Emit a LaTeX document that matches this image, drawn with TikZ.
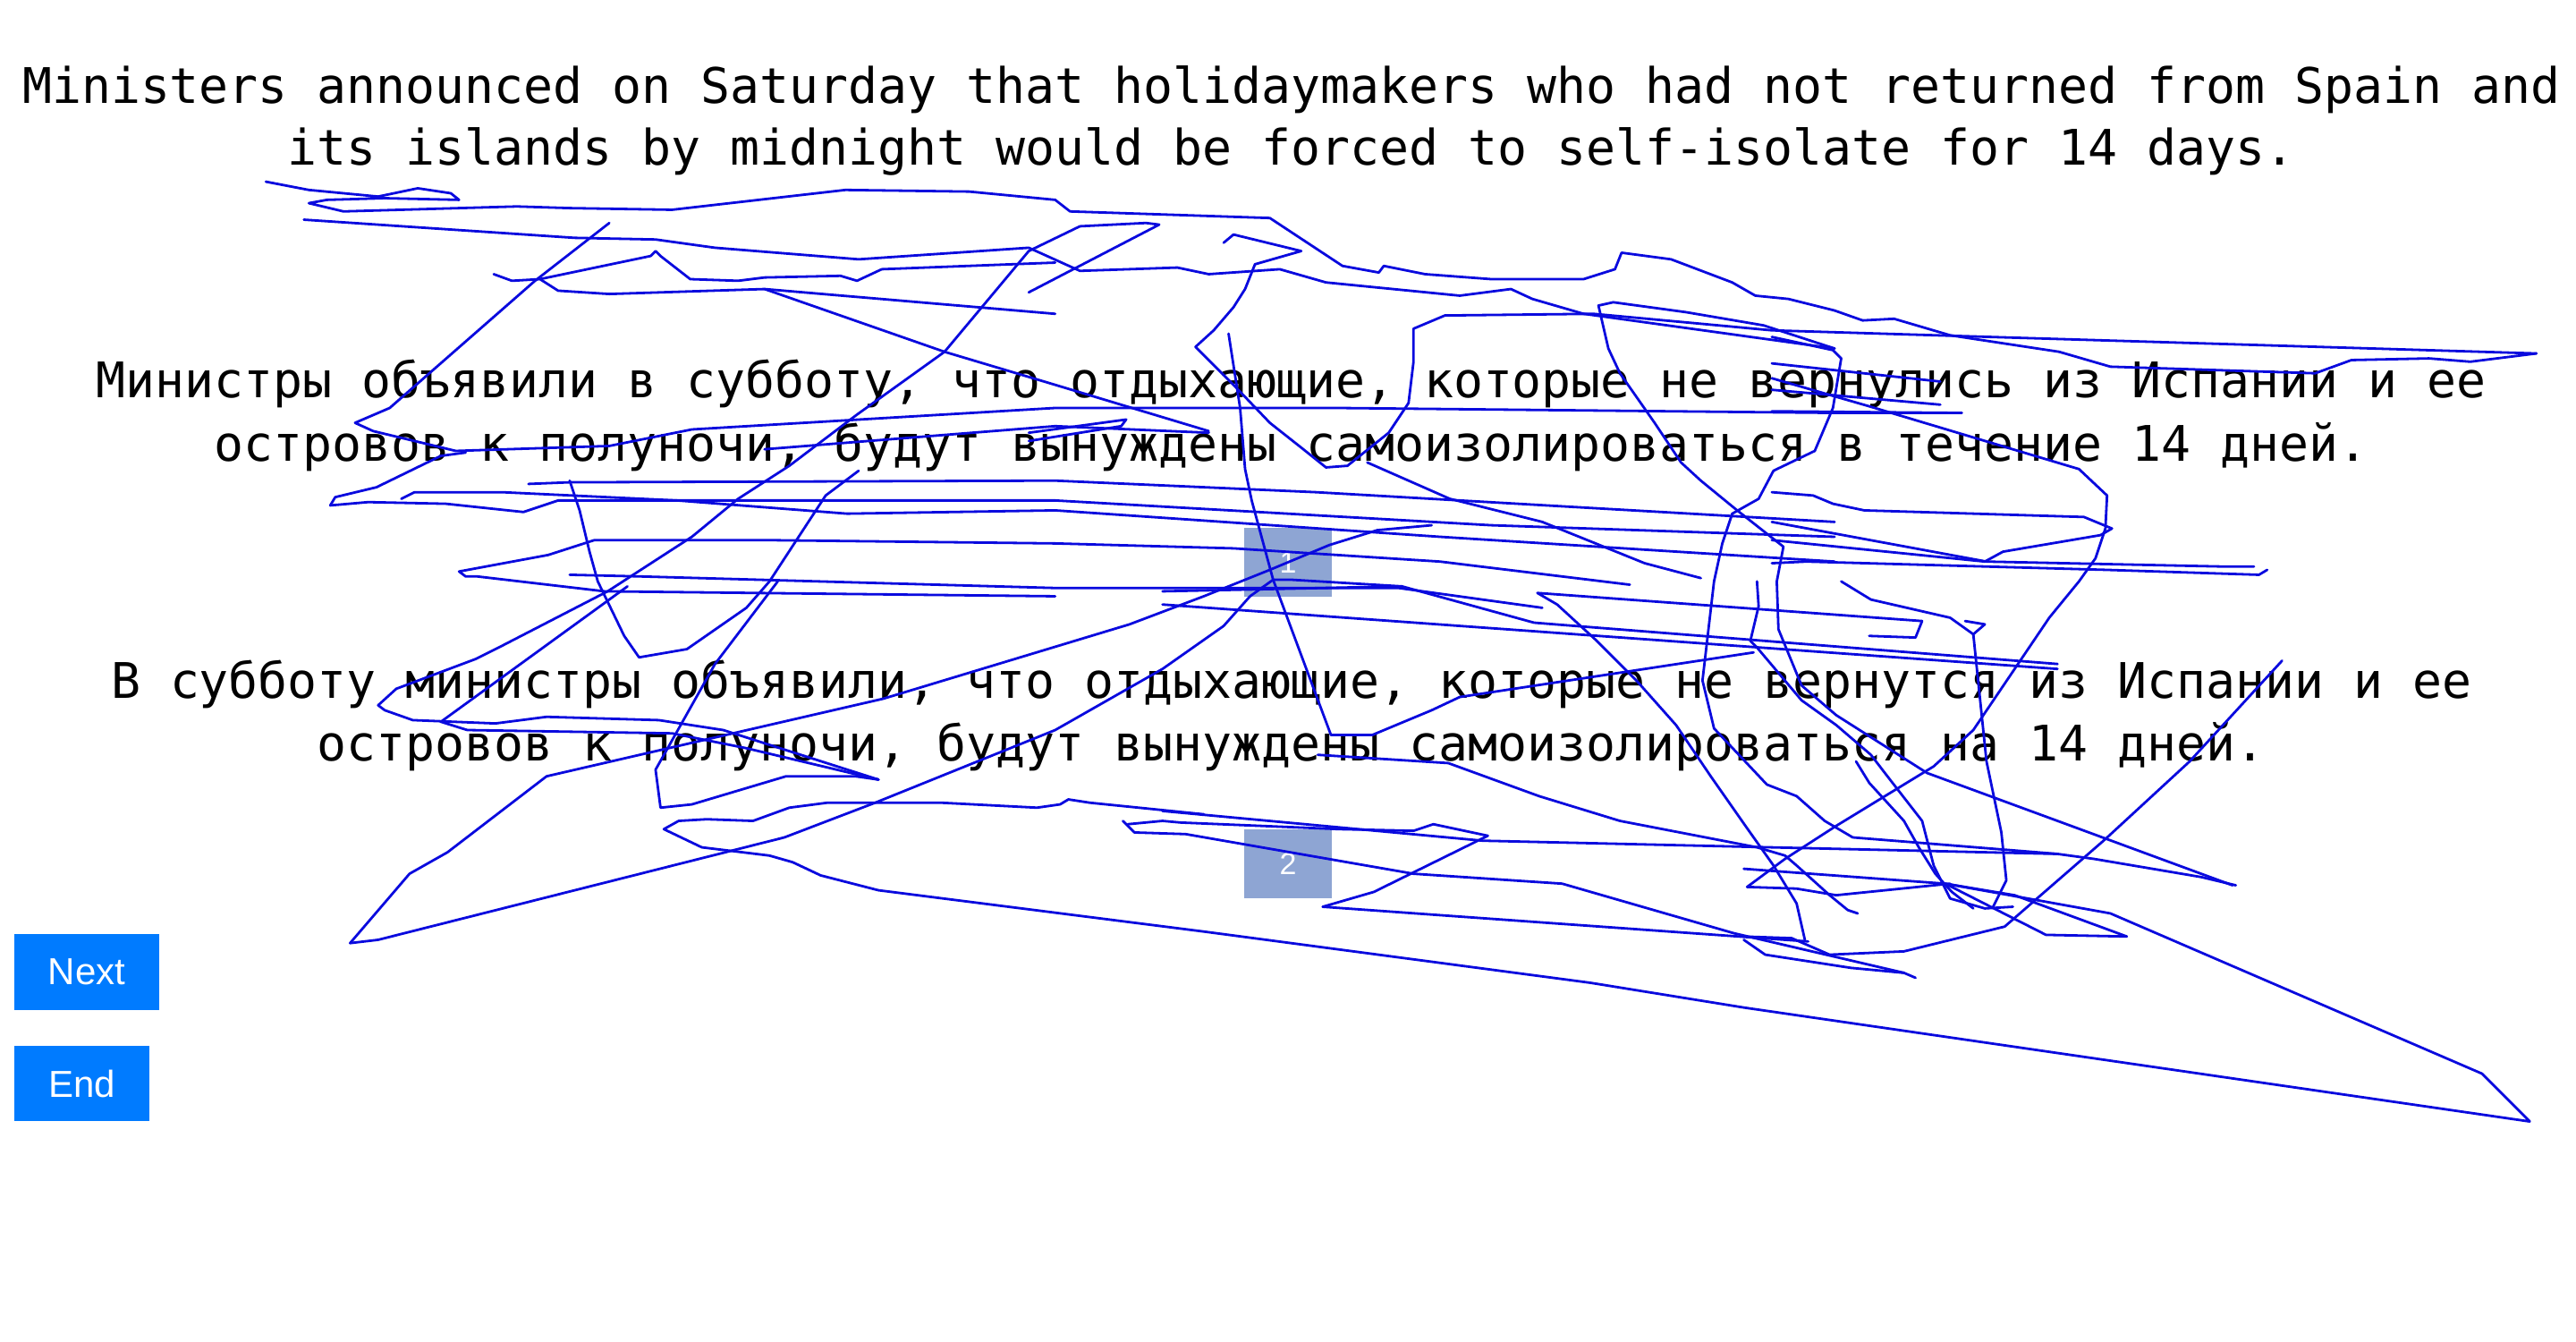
\documentclass[tikz,border=0pt]{standalone}
\usepackage{fontspec}
\setmainfont{Liberation Sans}
\newfontfamily\monofont{DejaVu Sans Mono}
\definecolor{traceblue}{RGB}{10,10,222}
\definecolor{btnblue}{RGB}{0,123,255}
\definecolor{pagebox}{RGB}{142,165,211}
\tikzset{
  caption/.style={font=\monofont\fontsize{27.4}{35}\selectfont, anchor=base, inner sep=0pt},
  button/.style={fill=btnblue, text=white, font=\fontsize{21}{24}\selectfont, minimum height=42.4pt, inner sep=0pt},
  pagenum/.style={fill=pagebox, text=white, font=\fontsize{17}{19}\selectfont, minimum width=49pt, minimum height=38.5pt, inner sep=0pt},
  trace/.style={traceblue, line width=1.4pt, line join=round, line cap=round}
}

\begin{document}
\begin{tikzpicture}[x=0.9231pt, y=-0.9231pt]
    \useasboundingbox (0,0) rectangle (1560,812.5);

    % sentences
    \node[caption] (en1) at (782,62.3) {Ministers announced on Saturday that holidaymakers who had not returned from Spain and};
    \node[caption] (en2) at (782,100.2) {its islands by midnight would be forced to self-isolate for 14 days.};
    \node[caption] (ru1) at (782,241) {Министры объявили в субботу, что отдыхающие, которые не вернулись из Испании и ее};
    \node[caption] (ru2) at (782,279) {островов к полуночи, будут вынуждены самоизолироваться в течение 14 дней.};
    \node[caption] (rv1) at (782,422.5) {В субботу министры объявили, что отдыхающие, которые не вернутся из Испании и ее};
    \node[caption] (rv2) at (782,460.5) {островов к полуночи, будут вынуждены самоизолироваться на 14 дней.};

    % page boxes and buttons
    \node[pagenum] (box1) at (780,340.5) {1};
    \node[pagenum] (box2) at (780,522.8) {2};
    \node[button, minimum width=81pt] (next) at (52.5,588.5) {Next};
    \node[button, minimum width=75.5pt] (end) at (49.6,656) {End};

    % mouse trace
    \draw[trace] plot coordinates {(161,110) (187,115) (229,119) (253,114) (273,117) (278,121) (233,120) (198,121) (187,123) (208,128) (313,125) (345,126) (407,127) (512,115) (587,116) (639,121) (648,128) (769,132) (813,161) (835,165) (838,161) (863,166) (903,169) (959,169) (978,163) (982,153) (1012,157) (1049,171) (1063,179) (1083,181) (1111,188) (1128,194) (1147,193) (1181,203) (1247,213) (1278,222) (1402,226) (1424,218) (1471,217) (1496,219) (1536,214)};
    \draw[trace] plot coordinates {(184,133) (348,144) (397,145) (433,150) (520,157) (623,150) (654,164) (713,162) (732,166) (775,163) (803,171) (884,179) (915,175) (928,181) (959,190) (1111,211)};
    \draw[trace] plot coordinates {(369,135) (324,170) (236,247) (215,256) (226,261) (276,273) (369,270) (419,260) (639,247) (810,247) (1111,250) (1188,250)};
    \draw[trace] plot coordinates {(299,166) (310,170) (327,169) (338,176) (369,178) (463,175) (639,190)};
    \draw[trace] plot coordinates {(327,169) (394,155) (397,152) (400,155) (418,169) (447,170) (463,168) (509,167) (519,170) (534,163) (639,159)};
    \draw[trace] plot coordinates {(463,175) (572,213) (639,233) (732,261)};
    \draw[trace] plot coordinates {(623,177) (702,136) (694,135) (654,137) (623,152) (572,213) (519,251) (478,282) (447,302) (419,325) (368,358) (304,391) (288,399) (240,417) (229,427) (233,430) (250,436) (300,438) (331,434) (399,436) (438,442) (463,450) (532,472)};
    \draw[trace] plot coordinates {(212,571) (248,529) (271,516) (331,470) (535,423) (684,378) (729,361) (769,345) (805,330) (834,321) (867,318)};
    \draw[trace] plot coordinates {(212,571) (229,569) (475,507) (530,486) (639,442) (704,405) (741,379) (757,361) (771,351) (782,351) (849,355)};
    \draw[trace] plot coordinates {(345,291) (351,309) (357,334) (362,352) (378,385) (387,398) (416,393) (452,368) (466,352) (500,300) (520,285)};
    \draw[trace] plot coordinates {(380,355) (267,437) (283,442) (407,444) (452,453) (532,472)};
    \draw[trace] plot coordinates {(471,352) (433,402) (397,466) (400,489) (419,487) (476,470) (518,470) (532,472)};
    \draw[trace] plot coordinates {(729,493) (660,486) (647,484) (642,487) (628,489) (570,486) (501,486) (478,489) (456,497) (428,496) (411,497) (402,502) (425,513) (466,518) (480,522) (497,530) (532,539) (729,564) (963,595) (1056,610) (1532,679) (1503,650) (1278,553) (1217,542) (1178,535)};
    \draw[trace] plot coordinates {(680,497) (687,504) (718,505) (856,529) (946,535) (1050,565) (1153,589) (1160,592)};
    \draw[trace] plot coordinates {(683,499) (704,497) (715,498) (811,502) (856,503) (868,499) (901,506) (832,540) (801,549) (1095,570)};
    \draw[trace] plot coordinates {(704,491) (898,509) (1246,517)};
    \draw[trace] plot coordinates {(798,457) (877,462) (932,482) (981,497) (1064,513) (1081,518) (1088,524) (1108,542) (1119,551) (1125,553)};
    \draw[trace] plot coordinates {(1132,385) (1160,386) (1164,376) (931,359) (943,366) (967,388) (991,412) (1015,439) (1036,470) (1057,500) (1074,524) (1088,547) (1093,569)};
    \draw[trace] plot coordinates {(1073,204) (1110,212) (1115,217) (1110,247) (1099,273) (1074,285) (1065,302) (1049,311) (1043,329) (1038,352) (1031,412) (1038,441) (1070,475) (1088,482) (1105,497) (1122,507) (1246,517) (1268,520) (1333,531) (1354,536)};
    \draw[trace] plot coordinates {(1064,352) (1065,367) (1060,388) (1064,392) (1091,424) (1112,439) (1133,457) (1143,470) (1164,497) (1171,524) (1181,544) (1202,550) (1219,549)};
    \draw[trace] plot coordinates {(968,185) (974,211) (981,226) (1002,256) (1018,280) (1030,291) (1052,309) (1080,331) (1076,352) (1077,381) (1091,415) (1112,433) (1167,468) (1246,497) (1352,536)};
    \draw[trace] plot coordinates {(968,185) (977,183) (1021,189) (1068,197) (1111,211)};
    \draw[trace] plot coordinates {(1073,229) (1132,246) (1259,284) (1276,300) (1275,320) (1269,338) (1259,352) (1241,374) (1195,442) (1171,464) (1112,500) (1081,520) (1058,537) (1088,538) (1112,542) (1181,535)};
    \draw[trace] plot coordinates {(1073,298) (1098,300) (1110,305) (1129,309) (1262,313) (1279,320) (1272,324) (1213,334) (1202,340) (1073,327)};
    \draw[trace] plot coordinates {(1073,316) (1203,340) (1346,343) (1365,343)};
    \draw[trace] plot coordinates {(1073,341) (1094,340) (1275,345) (1368,348) (1373,345)};
    \draw[trace] plot coordinates {(1382,400) (1326,461) (1275,508) (1214,561) (1153,576) (1108,578) (1085,568) (1056,567)};
    \draw[trace] plot coordinates {(1056,526) (1178,535) (1220,542) (1288,567) (1239,566) (1178,535)};
    \draw[trace] plot coordinates {(1124,461) (1132,474) (1153,497) (1162,513) (1172,529) (1182,540) (1195,550)};
    \draw[trace] plot coordinates {(1195,384) (1203,461) (1212,504) (1215,533) (1207,549)};
    \draw[trace] plot coordinates {(1056,569) (1069,578) (1121,586) (1153,589)};
    \draw[trace] plot coordinates {(1115,352) (1133,363) (1181,374) (1195,384) (1202,378) (1190,376)};
    \draw[trace] plot coordinates {(1073,220) (1175,231)};
    \draw[trace] plot coordinates {(1073,236) (1175,245)};
    \draw[trace] plot coordinates {(1073,249) (1188,250)};
    \draw[trace] plot coordinates {(741,147) (747,142) (788,152) (760,160) (754,175) (747,186) (735,200) (724,210) (747,233) (769,256) (788,271) (803,283) (816,282) (841,262) (853,244) (856,219) (856,199) (875,191) (965,190) (1073,200) (1536,214)};
    \draw[trace] plot coordinates {(744,202) (751,247) (754,284) (758,303) (771,351) (806,445) (831,445) (867,430) (884,422) (1062,395)};
    \draw[trace] plot coordinates {(200,306) (203,301) (228,295) (267,276) (282,274)};
    \draw[trace] plot coordinates {(200,306) (223,304) (270,305) (317,310) (338,303) (639,303) (903,318) (1111,325)};
    \draw[trace] plot coordinates {(243,302) (251,298) (304,298) (410,303) (513,311) (639,309) (872,325) (1111,340)};
    \draw[trace] plot coordinates {(639,361) (366,358) (289,349) (282,349) (278,346) (332,336) (360,327) (463,327) (639,329) (747,332) (872,340) (987,354)};
    \draw[trace] plot coordinates {(345,348) (388,349) (639,356) (847,356) (934,368)};
    \draw[trace] plot coordinates {(320,293) (345,292) (639,291) (797,298) (1111,316)};
    \draw[trace] plot coordinates {(463,272) (639,258) (732,262)};
    \draw[trace] plot coordinates {(828,280) (878,302) (934,316) (996,341) (1030,350)};
    \draw[trace] plot coordinates {(704,358) (849,355) (929,377) (1246,402)};
    \draw[trace] plot coordinates {(704,366) (1246,405)};
    \draw[trace] plot coordinates {(623,262) (682,254) (679,258) (623,267)};
\end{tikzpicture}
\end{document}
